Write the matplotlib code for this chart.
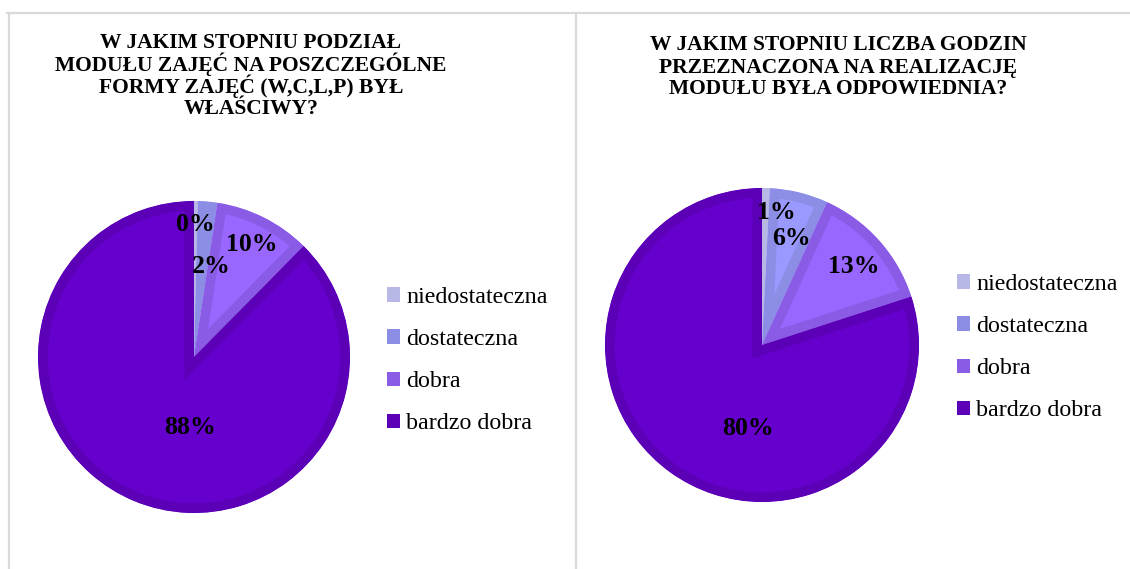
import matplotlib
matplotlib.use("Agg")
import matplotlib.pyplot as plt
from matplotlib.patches import Patch
import numpy as np

# ---- data ----
categories = ["niedostateczna", "dostateczna", "dobra", "bardzo dobra"]
title_left = ["W JAKIM STOPNIU PODZIAŁ", "MODUŁU ZAJĘĆ NA POSZCZEGÓLNE",
              "FORMY ZAJĘĆ (W,C,L,P) BYŁ", "WŁAŚCIWY?"]
values_left = [0.4, 2.0, 10.0, 87.6]
title_right = ["W JAKIM STOPNIU LICZBA GODZIN", "PRZEZNACZONA NA REALIZACJĘ",
               "MODUŁU BYŁA ODPOWIEDNIA?"]
values_right = [0.8, 6.0, 13.2, 80.0]

# ---- style ----
fill_colors = ["#c4c4f2", "#9999ff", "#9966ff", "#6600cc"]
edge_colors = ["#b8b8e6", "#8c8ee6", "#8a5ce6", "#5c00b8"]
# label placement (clockwise angle from 12 o'clock in degrees, radius fraction)
label_pos_left = [(0.7, 0.85), (10.6, 0.59), (27.0, 0.81), (182.9, 0.45)]
label_pos_right = [(6.0, 0.85), (15.3, 0.70), (49.2, 0.77), (189.6, 0.54)]

W, H = 1130, 569
fig = plt.figure(figsize=(W / 100, H / 100), dpi=100)
SERIF = ["Liberation Serif", "DejaVu Serif"]


def px_axes(cx, cy, r):
    """Square axes centred at pixel (cx, cy) (top-left origin) with radius r."""
    return fig.add_axes([(cx - r) / W, (H - cy - r) / H, 2 * r / W, 2 * r / H])


def draw_pie(ax, values, label_pos):
    wedges, _ = ax.pie(values, colors=fill_colors, startangle=90,
                       counterclock=False, radius=1.0,
                       wedgeprops=dict(linewidth=14, joinstyle="miter"))
    for w, ec in zip(wedges, edge_colors):
        w.set_edgecolor(ec)
        # keep only the inner half of the outline: a bevel-like rim
        w.set_clip_path(w.get_path(), w.get_transform())
        w.set_clip_on(True)
    for v, (ang, rr) in zip(values, label_pos):
        t = np.deg2rad(90 - ang)
        ax.text(rr * np.cos(t), rr * np.sin(t), f"{v:.0f}%", ha="center",
                va="center", fontsize=18.5, fontweight="bold", family=SERIF,
                color="black")
    ax.set_xlim(-1.0, 1.0)
    ax.set_ylim(-1.0, 1.0)
    ax.set_aspect("auto")
    ax.axis("off")
    return wedges


ax1 = px_axes(194, 357, 156)
draw_pie(ax1, values_left, label_pos_left)
ax2 = px_axes(762, 345, 157)
draw_pie(ax2, values_right, label_pos_right)

# panel borders
border = dict(color="#d9d9d9", linewidth=1.6)
fig.add_artist(plt.Line2D([7 / W, 1], [1 - 12.5 / H, 1 - 12.5 / H], transform=fig.transFigure, **border))
fig.add_artist(plt.Line2D([8.5 / W, 8.5 / W], [0, 1 - 12.5 / H], transform=fig.transFigure, **border))
fig.add_artist(plt.Line2D([576 / W, 576 / W], [0, 1 - 12.5 / H], transform=fig.transFigure, **border))

# titles, one line at a time for even spacing
for lines, xc, y0 in [(title_left, 251, 40), (title_right, 838, 43)]:
    for i, line in enumerate(lines):
        fig.text(xc / W, 1 - (y0 + 22 * i) / H, line, ha="center",
                 va="center_baseline", fontsize=15.5, fontweight="bold",
                 family=SERIF)

# legends
handles = [Patch(facecolor=c, edgecolor="none") for c in edge_colors]
for x0, y0 in [(387, 287), (957, 274)]:
    fig.legend(handles, categories, loc="upper left",
               bbox_to_anchor=(x0 / W, 1 - y0 / H), frameon=False,
               prop=dict(family=SERIF, size=17.3), handlelength=0.55,
               handleheight=0.55, handletextpad=0.25, labelspacing=0.88,
               borderpad=0, borderaxespad=0)

fig.savefig("out.png", dpi=100, facecolor="white")
